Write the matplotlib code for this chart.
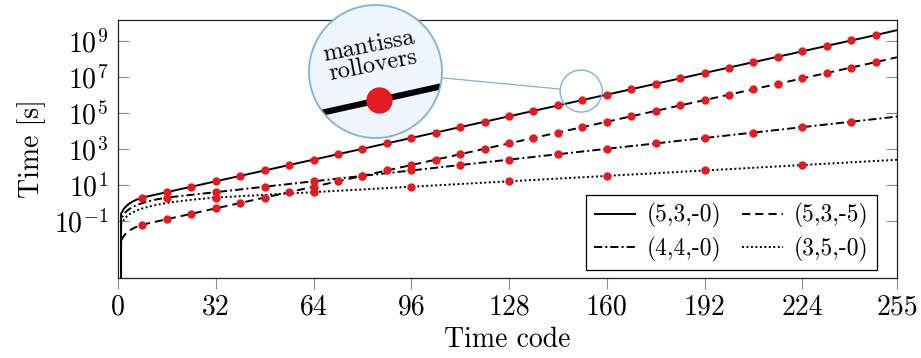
import numpy as np
import matplotlib
matplotlib.use("Agg")
import matplotlib.pyplot as plt
import matplotlib.transforms as mtransforms
from matplotlib.patches import Circle
from matplotlib.lines import Line2D
from matplotlib.ticker import NullLocator

plt.rcParams.update({
    'font.family': 'serif',
    'font.serif': ['cmr10'],
    'mathtext.fontset': 'cm',
    'axes.formatter.use_mathtext': True,
})

# ---------------- data ----------------
labels = ['(5,3,-0)', '(5,3,-5)', '(4,4,-0)', '(3,5,-0)']
rollover_step = [8, 8, 16, 32]

codes_530 = [0, 1, 2, 3, 4, 5, 6, 7] + list(range(8, 249, 8)) + [255]
time_530 = [0, 0.25, 0.5, 0.75, 1.0, 1.25, 1.5, 1.75,
            2, 4, 8, 16, 32, 64, 128, 256, 512, 1024, 2048, 4096, 8192,
            16384, 32768, 65536, 131072, 262144, 524288, 1048576, 2097152,
            4194304, 8388608, 16777216, 33554432, 67108864, 134217728,
            268435456, 536870912, 1073741824, 2147483648,
            4026531840]

codes_535 = [0, 1, 2, 3, 4, 5, 6, 7] + list(range(8, 249, 8)) + [255]
time_535 = [0, 0.0078125, 0.015625, 0.0234375, 0.03125, 0.0390625, 0.046875, 0.0546875,
            0.0625, 0.125, 0.25, 0.5, 1, 2, 4, 8, 16, 32, 64, 128, 256,
            512, 1024, 2048, 4096, 8192, 16384, 32768, 65536, 131072,
            262144, 524288, 1048576, 2097152, 4194304, 8388608, 16777216,
            33554432, 67108864,
            125829120]

codes_440 = [0, 1, 2, 3, 4, 5, 6, 8, 10, 12, 15] + list(range(16, 241, 16)) + [255]
time_440 = [0, 0.125, 0.25, 0.375, 0.5, 0.625, 0.75, 1.0, 1.25, 1.5, 1.875,
            2, 4, 8, 16, 32, 64, 128, 256, 512, 1024, 2048, 4096, 8192,
            16384, 32768,
            63488]

codes_350 = [0, 1, 2, 3, 4, 6, 8, 12, 16, 20, 24, 31] + list(range(32, 225, 32)) + [255]
time_350 = [0, 0.0625, 0.125, 0.1875, 0.25, 0.375, 0.5, 0.75, 1.0, 1.25, 1.5, 1.9375,
            2, 4, 8, 16, 32, 64, 128,
            252]

series_codes = [codes_530, codes_535, codes_440, codes_350]
series_times = [time_530, time_535, time_440, time_350]

xticks = [0, 32, 64, 96, 128, 160, 192, 224, 255]
yticks = [1e-1, 1e1, 1e3, 1e5, 1e7, 1e9]

# ---------------- style ----------------
styles = ['-', (0, (4.2, 2.6)), (0, (4.2, 1.6, 1.0, 1.6)), (0, (1.0, 1.3))]
LW = 1.4
MS = 6.0
RED = '#e31b23'
SPY_EDGE = '#82b1d8'
SPY_FILL = '#eef5fb'

W, H = 921, 358
fig = plt.figure(figsize=(W / 100, H / 100), dpi=100)
ax = fig.add_axes([118 / W, (H - 278) / H, 779 / W, 258 / H])


def draw_series(a, lw_scale=1.0, clip=None):
    handles = []
    for codes, times, ls, lab, step in zip(series_codes, series_times, styles, labels, rollover_step):
        c = np.asarray(codes, dtype=float)
        t = np.asarray(times, dtype=float)
        h, = a.plot(c, t, color='black', lw=LW * lw_scale, ls=ls, label=lab, zorder=2,
                    solid_capstyle='butt', dash_capstyle='butt')
        mask = (c > 0) & (c % step == 0) & (c < 255)
        m, = a.plot(c[mask], t[mask], 'o', ls='none', ms=MS * lw_scale, color=RED,
                    mec='none', zorder=3)
        if clip is not None:
            h.set_clip_path(clip)
            m.set_clip_path(clip)
        handles.append(h)
    return handles


handles = draw_series(ax)

ax.set_yscale('log')
ax.set_xlim(0, 255)
ax.set_ylim(10 ** -4.17, 10 ** 10.17)
ax.set_xticks(xticks)
ax.set_xticklabels([str(v) for v in xticks])
ax.set_yticks(yticks)
ax.yaxis.set_minor_locator(NullLocator())
ax.tick_params(axis='y', which='both', direction='in', left=True, right=True,
               length=8, width=0.8, color='#8a8a8a', labelsize=20, pad=7)
ax.tick_params(axis='x', which='both', direction='out', top=False, bottom=True,
               length=8, width=0.8, color='#8a8a8a', labelsize=20, pad=4)
for s in ax.spines.values():
    s.set_linewidth(0.9)
    s.set_color('#222222')

ax.set_xlabel('Time code', fontsize=20, labelpad=4)
ax.set_ylabel('Time [s]', fontsize=20, labelpad=6)

leg = ax.legend([handles[0], handles[2], handles[1], handles[3]],
                [labels[0], labels[2], labels[1], labels[3]],
                ncol=2, loc='lower right', bbox_to_anchor=(0.9743, 0.031),
                borderaxespad=0, fontsize=17, frameon=True, fancybox=False,
                edgecolor='black', framealpha=1, handlelength=1.75,
                handletextpad=0.45, columnspacing=0.9, labelspacing=0.35,
                borderpad=0.35)
leg.get_frame().set_linewidth(0.9)

# ---------------- magnifier (spy) ----------------
spy_center = (151.6, 10 ** 6.22)
r_small = 21.0
big_center = (375.5, H - 71.5)
r_big = 66.5

fig.canvas.draw()
sx, sy = ax.transData.transform(spy_center)
inv = ax.transData.inverted()
(x0, y0), (x1, y1) = inv.transform([[sx - r_small, sy - r_small], [sx + r_small, sy + r_small]])

ax_in = fig.add_axes([(big_center[0] - r_big) / W, (big_center[1] - r_big) / H,
                      2 * r_big / W, 2 * r_big / H])
ax_in.set_yscale('log')
ax_in.set_xlim(x0, x1)
ax_in.set_ylim(y0, y1)
ax_in.set_axis_off()
bg = Circle((0.5, 0.5), 0.5, transform=ax_in.transAxes, facecolor=SPY_FILL,
            edgecolor='none', zorder=0)
bg.set_clip_on(False)
ax_in.add_patch(bg)
draw_series(ax_in, lw_scale=r_big / r_small, clip=bg)
ring = Circle((0.5, 0.5), 0.5, transform=ax_in.transAxes, fill=False,
              edgecolor=SPY_EDGE, lw=1.3, zorder=5)
ring.set_clip_on(False)
ax_in.add_patch(ring)
ax_in.text(0.465, 0.615, 'mantissa\nrollovers', transform=ax_in.transAxes,
           ha='center', va='center', rotation=11, fontsize=17.5,
           linespacing=0.85, multialignment='center', zorder=4)

small = Circle((sx, sy), r_small, transform=mtransforms.IdentityTransform(),
               fill=False, edgecolor=SPY_EDGE, lw=1.0)
fig.add_artist(small)
dx, dy = sx - big_center[0], sy - big_center[1]
dist = np.hypot(dx, dy)
ux, uy = dx / dist, dy / dist
conn = Line2D([big_center[0] + r_big * ux, sx - r_small * ux],
              [big_center[1] + r_big * uy, sy - r_small * uy],
              transform=mtransforms.IdentityTransform(), color=SPY_EDGE, lw=0.9)
fig.add_artist(conn)

fig.savefig('out.png', dpi=100)
